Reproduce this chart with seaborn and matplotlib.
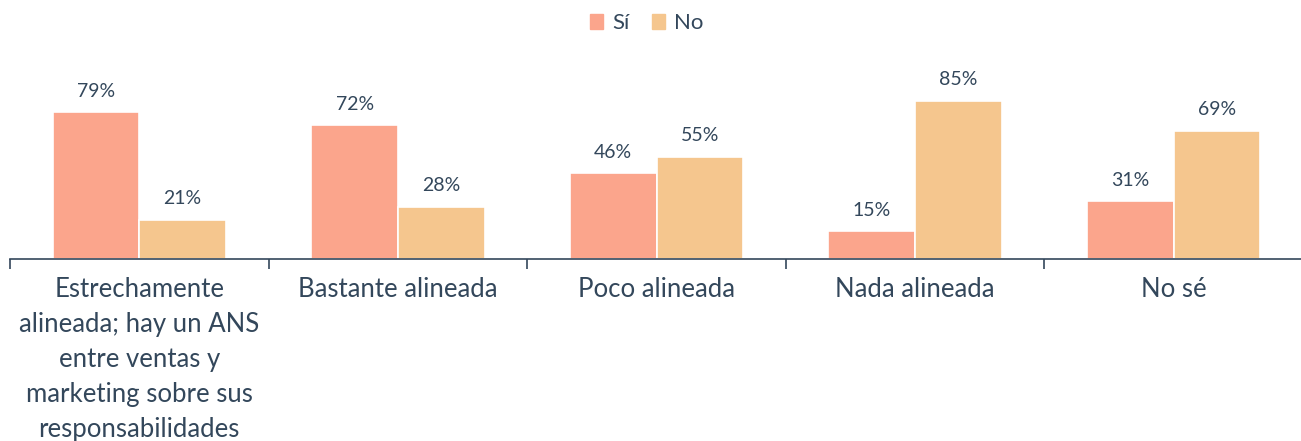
"""Grouped bar chart: alineación ventas/marketing, Sí vs No."""
import matplotlib.pyplot as plt
import numpy as np
import pandas as pd
import seaborn as sns

CATEGORIES = [
    "Estrechamente\nalineada; hay un ANS\nentre ventas y\nmarketing sobre sus\nresponsabilidades",
    "Bastante alineada",
    "Poco alineada",
    "Nada alineada",
    "No sé",
]
SI = [79, 72, 46, 15, 31]
NO = [21, 28, 55, 85, 69]
SERIES = ["Sí", "No"]
COLORS = ["#FBA58C", "#F5C68E"]
TEXT = "#33475B"

df = pd.DataFrame({
    "categoria": CATEGORIES * 2,
    "serie": [SERIES[0]] * len(CATEGORIES) + [SERIES[1]] * len(CATEGORIES),
    "valor": SI + NO,
})

sns.set_theme(style="white")
plt.rcParams["font.family"] = ["Lato", "DejaVu Sans"]

fig = plt.figure(figsize=(13.01, 4.41), dpi=100)
ax = fig.add_axes([10 / 1301, 1 - 259 / 441, 1293 / 1301, 199 / 441])

sns.barplot(data=df, x="categoria", y="valor", hue="serie", order=CATEGORIES,
            hue_order=SERIES, palette=COLORS, width=0.67, saturation=1,
            edgecolor="white", linewidth=1.2, ax=ax, legend=False)

for cont in ax.containers:
    ax.bar_label(cont, labels=[f"{v:.0f}%" for v in cont.datavalues],
                 padding=9, fontsize=14, color=TEXT)

ax.set_ylim(0, 107)
ax.set_xlim(-0.5, len(CATEGORIES) - 0.5)
ax.set_xlabel("")
ax.set_ylabel("")
ax.set_yticks([])
for s in ["top", "right", "left"]:
    ax.spines[s].set_visible(False)
ax.spines["bottom"].set_color(TEXT)
ax.spines["bottom"].set_linewidth(1.2)

ax.set_xticks(range(len(CATEGORIES)))
ax.set_xticklabels(CATEGORIES, fontsize=18.5, color=TEXT, linespacing=1.5)
ax.tick_params(axis="x", which="major", length=0, pad=13)
ax.set_xticks(np.arange(-0.5, len(CATEGORIES), 1.0), minor=True)
ax.tick_params(axis="x", which="minor", length=7, width=1.2, color=TEXT, bottom=True)

handles = [plt.Rectangle((0, 0), 1, 1, color=c) for c in COLORS]
fig.legend(handles, SERIES, loc="upper center", bbox_to_anchor=(0.497, 1.015),
           ncol=2, frameon=False, fontsize=16, handlelength=0.6, handleheight=0.6,
           handletextpad=0.4, columnspacing=1.0, labelcolor=TEXT)

fig.savefig("out.png", dpi=100)
